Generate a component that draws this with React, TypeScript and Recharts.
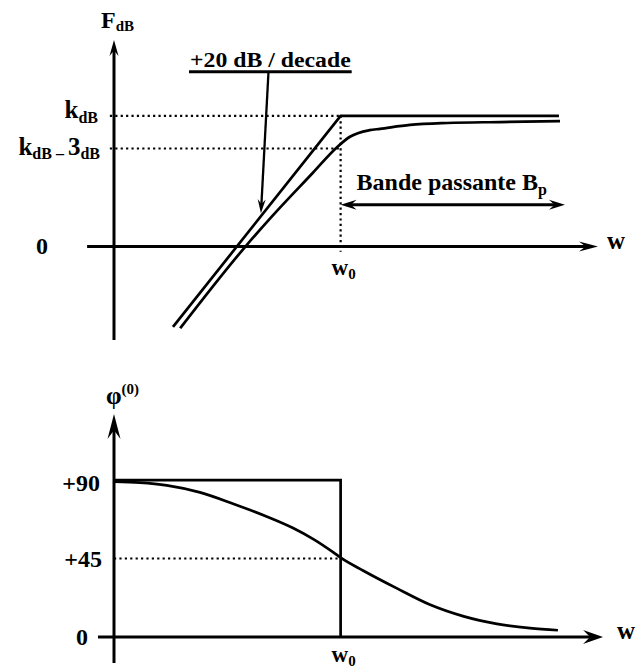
import React from 'react'
import { ComposedChart, Line, XAxis, YAxis, ReferenceLine, ReferenceDot } from 'recharts'

// x is log10(w / w0) → the cutoff w0 sits at 0
const W0 = 0

// ── Gain (top) ─────────────────────────────────────────────
const K_DB = 20
const K_3DB = 15
const gainTicks = [0, K_3DB, K_DB]
const asymU = [-1.62, W0, 2.11]
const asymDb = [-12.3, K_DB, K_DB]
const gainU = [-1.55, -0.92, -0.67, -0.27, -0.035, 0.09, 0.28, 0.38, 0.67, 1.03, 1.54, 2.12]
const gainDb = [-12.5, 0, 4.5, 11.25, 15.2, 16.8, 17.8, 18.0, 18.6, 18.9, 19.05, 19.2]

// ── Phase (bottom) ─────────────────────────────────────────
const phaseTicks = [0, 45, 90]
const stepU = [-2.19, W0, W0]
const stepDeg = [90, 90, 0]
const phaseU = [-2.19, -1.94, -1.68, -1.36, -1.04, -0.71, -0.46, -0.26, -0.07, 0, 0.22, 0.54, 0.86, 1.19, 1.51, 1.83, 2.1]
const phaseDeg = [89.2, 88.6, 87.0, 83.0, 76.5, 69.0, 62.5, 56.0, 48.5, 45.5, 38.0, 28.0, 18.6, 11.8, 7.5, 5.0, 3.8]

const zip = (u: number[], v: number[]) => u.map((x, i) => ({ u: x, v: v[i] }))
const asymData = zip(asymU, asymDb)
const gainData = zip(gainU, gainDb)
const stepData = zip(stepU, stepDeg)
const phaseData = zip(phaseU, phaseDeg)

// ── Drawing helpers ────────────────────────────────────────
const serif = {
  fontFamily: '"Liberation Serif", "Times New Roman", serif',
  fontWeight: 700,
  fill: '#000',
}

function head(x: number, y: number, ang: number, len: number, half: number) {
  const c = Math.cos(ang)
  const s = Math.sin(ang)
  const pt = (a: number, b: number) => `${x + a * c - b * s},${y + a * s + b * c}`
  return (
    <polygon
      points={[pt(0, 0), pt(-len, -half), pt(-len * 0.65, 0), pt(-len, half)].join(' ')}
      fill="#000"
    />
  )
}

function arrow(len: number, half: number, width: number, both = false, extra?: (p: any) => React.ReactNode) {
  return (p: any) => {
    const { x1, y1, x2, y2 } = p
    const ang = Math.atan2(y2 - y1, x2 - x1)
    const back = len * 0.6
    const dx = Math.cos(ang) * back
    const dy = Math.sin(ang) * back
    return (
      <g>
        <line
          x1={both ? x1 + dx : x1}
          y1={both ? y1 + dy : y1}
          x2={x2 - dx}
          y2={y2 - dy}
          stroke="#000"
          strokeWidth={width}
        />
        {head(x2, y2, ang, len, half)}
        {both && head(x1, y1, ang + Math.PI, len, half)}
        {extra?.(p)}
      </g>
    )
  }
}

const dotted = { stroke: '#000', strokeWidth: 2.2, strokeDasharray: '2.2 3.2' }

function GainTick({ x, y, payload }: any) {
  const v = payload.value
  if (v === K_DB)
    return (
      <text x={x - 16} y={y + 2} textAnchor="end" fontSize={25} {...serif}>
        k<tspan fontSize={16} dy={5}>dB</tspan>
      </text>
    )
  if (v === K_3DB)
    return (
      <text x={x - 14} y={y + 7} textAnchor="end" fontSize={25} {...serif}>
        k<tspan fontSize={16} dy={4}>dB – </tspan>
        <tspan dy={-4}>3</tspan>
        <tspan fontSize={16} dy={4}>dB</tspan>
      </text>
    )
  return (
    <text x={x - 66} y={y + 7} textAnchor="end" fontSize={24} {...serif}>
      0
    </text>
  )
}

function PhaseTick({ x, y, payload }: any) {
  const v = payload.value
  const dx = v === 90 ? -14 : v === 45 ? -12 : -26
  const dy = v === 90 ? 11 : 8
  return (
    <text x={x + dx} y={y + dy} textAnchor="end" fontSize={24} {...serif}>
      {v === 0 ? '0' : `+${v}`}
    </text>
  )
}

const w0Label = (off: number) => (p: any) => (
  <text x={p.cx - 9} y={p.cy + off} fontSize={23} {...serif}>
    w<tspan fontSize={15} dy={4}>0</tspan>
  </text>
)

// ── Component ──────────────────────────────────────────────
export default function App() {
  return (
    <div style={{ position: 'absolute', left: 0, top: 0, width: 640, height: 668, background: '#fff' }}>
      <div style={{ position: 'absolute', left: 0, top: 0 }}>
        <ComposedChart width={640} height={350} margin={{ top: 40, right: 50, bottom: 10, left: 0 }}>
          <XAxis type="number" dataKey="u" domain={[-2.19, 2.41]} hide />
          <YAxis
            type="number"
            domain={[-14.3, 31.6]}
            ticks={gainTicks}
            interval={0}
            width={114}
            axisLine={false}
            tickLine={false}
            tickSize={0}
            tickMargin={0}
            tick={<GainTick />}
          />

          {/* guides */}
          <ReferenceLine segment={[{ x: -2.23, y: K_DB }, { x: W0, y: K_DB }]} ifOverflow="visible" {...dotted} />
          <ReferenceLine segment={[{ x: -2.23, y: K_3DB }, { x: W0, y: K_3DB }]} ifOverflow="visible" {...dotted} />
          <ReferenceLine segment={[{ x: W0, y: K_DB }, { x: W0, y: -0.8 }]} ifOverflow="visible" {...dotted} />

          {/* axes */}
          <ReferenceLine
            segment={[{ x: -2.45, y: 0 }, { x: 2.487, y: 0 }]}
            ifOverflow="visible"
            shape={arrow(19, 5, 3, false, (p) => (
              <text x={p.x2 + 9} y={p.y2 + 2} fontSize={25} {...serif}>w</text>
            ))}
          />
          <ReferenceLine
            segment={[{ x: -2.19, y: -14.3 }, { x: -2.19, y: 31.6 }]}
            ifOverflow="visible"
            shape={arrow(16, 4.5, 3, false, (p) => (
              <text x={p.x2 - 13} y={p.y2 - 12} fontSize={24} {...serif}>
                F<tspan fontSize={15} dy={3}>dB</tspan>
              </text>
            ))}
          />

          {/* slope annotation */}
          <ReferenceLine
            segment={[{ x: -1.465, y: 26.75 }, { x: 0.107, y: 26.75 }]}
            ifOverflow="visible"
            shape={(p: any) => (
              <g>
                <line x1={p.x1} y1={p.y1} x2={p.x2} y2={p.y2} stroke="#000" strokeWidth={3} />
                <text
                  x={p.x1 + 1}
                  y={p.y1 - 5}
                  fontSize={20}
                  textLength={p.x2 - p.x1 - 2}
                  lengthAdjust="spacingAndGlyphs"
                  {...serif}
                >
                  +20 dB / decade
                </text>
              </g>
            )}
          />
          <ReferenceLine
            segment={[{ x: -0.697, y: 26.75 }, { x: -0.77, y: 5.1 }]}
            ifOverflow="visible"
            shape={arrow(14, 4, 2.3)}
          />

          {/* bandwidth */}
          <ReferenceLine
            segment={[{ x: W0, y: 6.4 }, { x: 2.168, y: 6.4 }]}
            ifOverflow="visible"
            shape={arrow(16, 5, 3, true, (p) => (
              <text x={p.x1 + 16} y={p.y1 - 15} fontSize={24} {...serif}>
                Bande passante B<tspan fontSize={16} dy={5}>p</tspan>
              </text>
            ))}
          />
          <ReferenceDot x={W0} y={0} ifOverflow="visible" shape={w0Label(28)} />

          <Line data={asymData} dataKey="v" type="linear" stroke="#000" strokeWidth={2.7} dot={false} isAnimationActive={false} />
          <Line data={gainData} dataKey="v" type="monotone" stroke="#000" strokeWidth={2.7} dot={false} isAnimationActive={false} />
        </ComposedChart>
      </div>

      <div style={{ position: 'absolute', left: 0, top: 350 }}>
        <ComposedChart width={640} height={318} margin={{ top: 64, right: 50, bottom: 5, left: 0 }}>
          <XAxis type="number" dataKey="u" domain={[-2.19, 2.41]} hide />
          <YAxis
            type="number"
            domain={[-15, 128]}
            ticks={phaseTicks}
            interval={0}
            width={114}
            axisLine={false}
            tickLine={false}
            tickSize={0}
            tickMargin={0}
            tick={<PhaseTick />}
          />

          <ReferenceLine segment={[{ x: -2.19, y: 45 }, { x: W0, y: 45 }]} ifOverflow="visible" {...dotted} />

          <ReferenceLine
            segment={[{ x: -2.345, y: 0 }, { x: 2.536, y: 0 }]}
            ifOverflow="visible"
            shape={arrow(20, 7, 3, false, (p) => (
              <text x={p.x2 + 14} y={p.y2 + 2} fontSize={25} {...serif}>w</text>
            ))}
          />
          <ReferenceLine
            segment={[{ x: -2.19, y: -15 }, { x: -2.19, y: 128 }]}
            ifOverflow="visible"
            shape={arrow(25, 6.5, 3, false, (p) => (
              <text x={p.x2 - 8} y={p.y2 - 10} fontSize={25} {...serif}>
                φ<tspan fontSize={15} dy={-10}>(0)</tspan>
              </text>
            ))}
          />
          <ReferenceDot x={W0} y={0} ifOverflow="visible" shape={w0Label(25)} />

          <Line data={stepData} dataKey="v" type="linear" stroke="#000" strokeWidth={2.7} dot={false} isAnimationActive={false} />
          <Line data={phaseData} dataKey="v" type="monotone" stroke="#000" strokeWidth={2.7} dot={false} isAnimationActive={false} />
        </ComposedChart>
      </div>
    </div>
  )
}
